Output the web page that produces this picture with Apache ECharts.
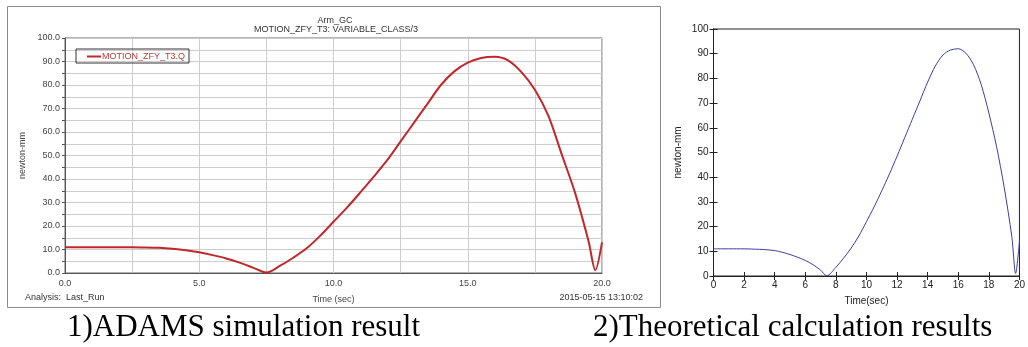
<!DOCTYPE html>
<html>
<head>
<meta charset="utf-8">
<script src="https://cdn.jsdelivr.net/npm/echarts@6/dist/echarts.min.js"></script>
<style>
  html, body { margin: 0; padding: 0; background: #fff; }
  #main { width: 1028px; height: 347px; }
</style>
</head>
<body>
<div id="main"></div>
<script>
// ADAMS simulation (left panel)
const adamsTime = [0, 0.5, 1, 1.5, 2, 2.5, 3, 3.5, 4, 4.5, 5, 5.5, 6, 6.5, 7, 7.5, 8, 8.5, 9, 9.5, 10,
  10.5, 11, 11.5, 12, 12.5, 13, 13.5, 14, 14.5, 15, 15.5, 16, 16.5, 17, 17.5, 18, 18.5, 19, 19.5, 19.75, 20];
const adamsTorque = [11, 11, 11, 11, 11, 11, 10.9, 10.7, 10.3, 9.7, 8.8, 7.6, 6.2, 4.4, 2.3, 0.2, 3.0, 6.5, 10.5, 15.8, 21.8,
  27.8, 34.3, 41, 48, 56, 64, 72, 80, 85.8, 89.5, 91.5, 92, 90.5, 85.5, 78, 67, 50.5, 34, 13.5, 1.2, 13];

// theoretical calculation (right panel)
const theoryTime = [0, 0.5, 1, 1.5, 2, 2.5, 3, 3.5, 4, 4.5, 5, 5.5, 6, 6.5, 7, 7.4, 8, 8.5, 9, 9.5, 10,
  10.5, 11, 11.5, 12, 12.5, 13, 13.5, 14, 14.5, 15, 15.5, 16, 16.5, 17, 17.5, 18, 18.5, 19, 19.5, 19.75, 20];
const theoryTorque = [11, 11, 11, 11, 11, 10.9, 10.8, 10.6, 10.3, 9.6, 8.7, 7.6, 6.3, 4.6, 2.4, 0.1, 3.5, 7.2, 11.3, 16.2, 22,
  28, 34.5, 41.3, 48.5, 56, 63.5, 71, 78.5, 85, 89.5, 91.5, 92, 90.2, 85.5, 77.5, 66, 52.5, 36, 16, 1, 14];

const adamsXLabels = [0, 5, 10, 15, 20];
const adamsYLabels = [0, 10, 20, 30, 40, 50, 60, 70, 80, 90, 100];

const chart = echarts.init(document.getElementById('main'));

const sans = 'Liberation Sans';

const option = {
  animation: false,
  backgroundColor: '#fff',
  grid: [
    { left: 65, top: 38, width: 537, height: 235, show: true, borderColor: '#666', borderWidth: 1 },
    { left: 713.5, top: 29, width: 313, height: 247, show: true, borderColor: '#222', borderWidth: 1 }
  ],
  legend: {
    data: [{ name: 'MOTION_ZFY_T3.Q', icon: 'rect' }],
    left: 76, top: 49,
    borderColor: '#333', borderWidth: 1,
    padding: [3, 4, 2, 11],
    itemWidth: 14, itemHeight: 2, itemGap: 0,
    textStyle: { color: '#b83c3c', fontSize: 9, fontFamily: sans, padding: [0, 0, 0, -4] }
  },
  xAxis: [
    {
      gridIndex: 0, type: 'value', min: 0, max: 20, interval: 2.5,
      name: 'Time (sec)', nameLocation: 'middle', nameGap: 22,
      nameTextStyle: { fontSize: 9, color: '#444', fontFamily: sans },
      axisLine: { lineStyle: { color: '#555' } },
      axisTick: { show: false },
      axisLabel: {
        margin: 6, fontSize: 9, color: '#444', fontFamily: sans,
        formatter: v => adamsXLabels.includes(v) ? v.toFixed(1) : ''
      },
      splitLine: { show: true, lineStyle: { color: '#cdcdcd', width: 1 } }
    },
    {
      gridIndex: 1, type: 'value', min: 0, max: 20, interval: 2,
      name: 'Time(sec)', nameLocation: 'middle', nameGap: 20,
      nameTextStyle: { fontSize: 10, color: '#222', fontFamily: sans },
      axisLine: { lineStyle: { color: '#222' } },
      axisTick: { inside: true, length: 4, lineStyle: { color: '#222' } },
      axisLabel: { margin: 4, fontSize: 10, color: '#222', fontFamily: sans },
      splitLine: { show: false }
    },
    {
      gridIndex: 1, type: 'value', min: 0, max: 20, interval: 2, position: 'top',
      axisLine: { lineStyle: { color: '#222' } },
      axisTick: { inside: true, length: 4, lineStyle: { color: '#222' } },
      axisLabel: { show: false },
      splitLine: { show: false }
    }
  ],
  yAxis: [
    {
      gridIndex: 0, type: 'value', min: 0, max: 100, interval: 5,
      name: 'newton-mm', nameLocation: 'middle', nameGap: 37,
      nameTextStyle: { fontSize: 9, color: '#444', fontFamily: sans },
      axisLine: { show: true, lineStyle: { color: '#555' } },
      axisTick: { show: true, length: 3, lineStyle: { color: '#555' } },
      axisLabel: {
        margin: 5, fontSize: 9, color: '#444', fontFamily: sans,
        formatter: v => adamsYLabels.includes(v) ? v.toFixed(1) : ''
      },
      splitLine: { show: true, lineStyle: { color: '#cdcdcd', width: 1 } }
    },
    {
      gridIndex: 1, type: 'value', min: 0, max: 100, interval: 10,
      name: 'newton-mm', nameLocation: 'middle', nameGap: 30,
      nameTextStyle: { fontSize: 10, color: '#222', fontFamily: sans },
      axisLine: { show: true, lineStyle: { color: '#222' } },
      axisTick: { show: true, inside: true, length: 4, lineStyle: { color: '#222' } },
      axisLabel: { margin: 5, fontSize: 10, color: '#222', fontFamily: sans },
      splitLine: { show: false }
    },
    {
      gridIndex: 1, type: 'value', min: 0, max: 100, interval: 10, position: 'right',
      axisLine: { show: true, lineStyle: { color: '#222' } },
      axisTick: { show: true, inside: true, length: 4, lineStyle: { color: '#222' } },
      axisLabel: { show: false },
      splitLine: { show: false }
    }
  ],
  series: [
    {
      name: 'MOTION_ZFY_T3.Q',
      type: 'line',
      xAxisIndex: 0, yAxisIndex: 0,
      symbol: 'none',
      smooth: 0.3,
      lineStyle: { color: '#c0282c', width: 2 },
      itemStyle: { color: '#c0282c' },
      data: adamsTime.map((t, i) => [t, adamsTorque[i]])
    },
    {
      name: 'theory',
      type: 'line',
      xAxisIndex: 1, yAxisIndex: 1,
      symbol: 'none',
      smooth: 0.3,
      lineStyle: { color: '#3b3f9c', width: 1 },
      itemStyle: { color: '#3b3f9c' },
      data: theoryTime.map((t, i) => [t, theoryTorque[i]])
    }
  ],
  graphic: [
    {
      type: 'rect', silent: true,
      shape: { x: 7.5, y: 6.5, width: 653, height: 301 },
      style: { fill: null, stroke: '#8a8a8a', lineWidth: 1 }
    },
    {
      type: 'text', x: 335, y: 21,
      style: { text: 'Arm_GC', font: '9px "Liberation Sans"', fill: '#333', textAlign: 'center', textVerticalAlign: 'middle' }
    },
    {
      type: 'text', x: 336, y: 30,
      style: { text: 'MOTION_ZFY_T3: VARIABLE_CLASS/3', font: '9px "Liberation Sans"', fill: '#333', textAlign: 'center', textVerticalAlign: 'middle' }
    },
    {
      type: 'text', x: 25, y: 298,
      style: { text: 'Analysis:  Last_Run', font: '9px "Liberation Sans"', fill: '#333', textAlign: 'left', textVerticalAlign: 'middle' }
    },
    {
      type: 'text', x: 643, y: 298,
      style: { text: '2015-05-15 13:10:02', font: '9px "Liberation Sans"', fill: '#333', textAlign: 'right', textVerticalAlign: 'middle' }
    },
    {
      type: 'text', x: 67, y: 328,
      style: { text: '1)ADAMS simulation result', font: '31px "Liberation Serif"', fill: '#000', textAlign: 'left', textVerticalAlign: 'middle' }
    },
    {
      type: 'text', x: 593, y: 328,
      style: { text: '2)Theoretical calculation results', font: '31px "Liberation Serif"', fill: '#000', textAlign: 'left', textVerticalAlign: 'middle' }
    }
  ]
};

chart.setOption(option);
</script>
</body>
</html>
